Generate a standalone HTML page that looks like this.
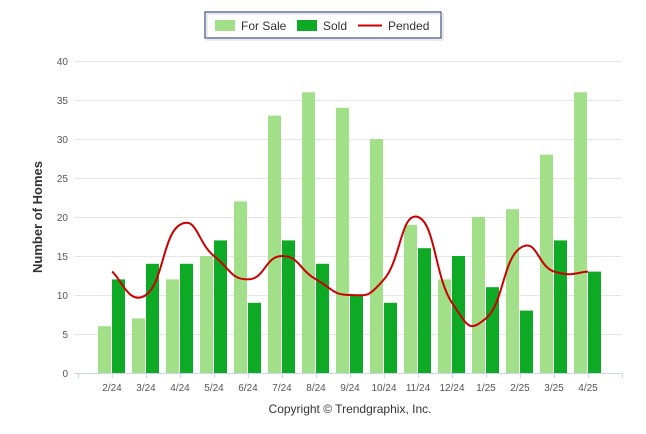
<!DOCTYPE html>
<html><head><meta charset="utf-8"><style>
body{margin:0;background:#fff;font-family:"Liberation Sans",sans-serif;}
svg{display:block}
</style></head><body>
<svg id="c" width="646" height="434">
<g>
<rect x="205" y="12" width="236" height="26" fill="#fff" stroke="#1a2a6c" stroke-width="1"/>
<rect x="207" y="14" width="236" height="26" fill="none" stroke="#bbb" stroke-width="1" opacity="0.6"/>
<rect x="215" y="20" width="20" height="11" fill="#a1df89"/>
<text x="241" y="30" font-size="12" fill="#333">For Sale</text>
<rect x="297" y="20" width="20" height="11" fill="#0ea925"/>
<text x="323" y="30" font-size="12" fill="#333">Sold</text>
<line x1="358" y1="25.5" x2="382" y2="25.5" stroke="#cc0000" stroke-width="2"/>
<text x="388" y="30" font-size="12" fill="#333">Pended</text>
</g>
<text transform="translate(42,217) rotate(-90)" text-anchor="middle" font-size="13" font-weight="bold" fill="#333">Number of Homes</text>
<text x="350" y="413" text-anchor="middle" font-size="12" fill="#333">Copyright © Trendgraphix, Inc.</text>
<g id="grid"></g><g id="bars"></g><g id="lines"></g><g id="labels"></g>
</svg>
<script>
const categories=["2/24","3/24","4/24","5/24","6/24","7/24","8/24","9/24","10/24","11/24","12/24","1/25","2/25","3/25","4/25"];
const forSale=[6,7,12,15,22,33,36,34,30,19,12,20,21,28,36];
const sold=[12,14,14,17,9,17,14,10,9,16,15,11,8,17,13];
const pended=[13,10,19,15,12,15,12,10,12,20,9,7,16,13,13];
const yTicks=[0,5,10,15,20,25,30,35,40];
const NS="http://www.w3.org/2000/svg";
const X0=78,STEP=34,Y0=373,PX=7.8;
const xc=i=>X0+STEP*(i+1);
const y=v=>Y0-v*PX;
function mk(tag,attrs,parent){const e=document.createElementNS(NS,tag);for(const k in attrs)e.setAttribute(k,attrs[k]);document.getElementById(parent).appendChild(e);return e;}
yTicks.forEach(t=>{
 const l=mk('line',{x1:74,x2:622,y1:y(t)+0.5,y2:y(t)+0.5,stroke:t===0?'#ccd6eb':'#e6e6e6','stroke-width':1},'grid');
 
 
 const tx=mk('text',{x:68,y:y(t)+4,'text-anchor':'end','font-size':10,fill:'#555'},'labels');
 tx.textContent=t;
 
 
});
for(let i=0;i<=16;i++){const t=mk('line',{x1:X0+STEP*i+0.5,x2:X0+STEP*i+0.5,y1:Y0,y2:Y0+5,stroke:'#ccd6eb'},'grid');
 
 }
categories.forEach((c,i)=>{
 const a=mk('rect',{x:xc(i)-14,y:y(forSale[i]),width:13,height:forSale[i]*PX,fill:'#a1df89'},'bars');
 
 
 const b=mk('rect',{x:xc(i),y:y(sold[i]),width:13,height:sold[i]*PX,fill:'#0ea925'},'bars');
 
 
 const t=mk('text',{x:xc(i),y:391,'text-anchor':'middle','font-size':10,fill:'#555'},'labels');
 t.textContent=c;
 
 
});
const pts=pended.map((v,i)=>[xc(i),y(v)]);
let d='M'+pts[0][0]+','+pts[0][1];
for(let i=0;i<pts.length-1;i++){
 const p0=pts[Math.max(0,i-1)],p1=pts[i],p2=pts[i+1],p3=pts[Math.min(pts.length-1,i+2)];
 const k=0.25;
 d+=' C'+(p1[0]+(p2[0]-p0[0])*k/1)+','+(p1[1]+(p2[1]-p0[1])*k)+' '+(p2[0]-(p3[0]-p1[0])*k)+','+(p2[1]-(p3[1]-p1[1])*k)+' '+p2[0]+','+p2[1];
}
const pl=mk('path',{d:d,fill:'none',stroke:'#cc0000','stroke-width':2},'lines');


</script>
</body></html>
